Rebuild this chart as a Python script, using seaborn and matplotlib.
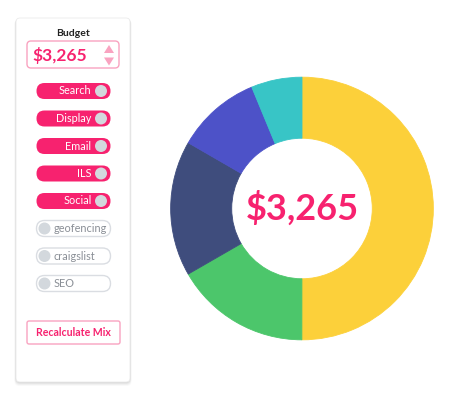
import matplotlib
matplotlib.use("Agg")
import matplotlib.pyplot as plt
from matplotlib.patches import FancyBboxPatch, Circle, Polygon
import seaborn as sns

# ---- data ----
channels_on = ["Search", "Display", "Email", "ILS", "Social"]
amounts = [1633, 544, 544, 340, 204]
channels_off = ["geofencing", "craigslist", "SEO"]
title = "Budget"
button_label = "Recalculate Mix"

total = sum(amounts)
total_label = f"${total:,}"

# ---- style ----
sns.set_theme(style="white")
plt.rcParams["font.family"] = ["Lato", "DejaVu Sans"]
PINK = "#F7226F"
LIGHT_PINK = "#F9A3C0"
KNOB = "#D3D8DD"
slice_colors = ["#FCD03A", "#4CC66B", "#3F4D7D", "#4D52C8", "#38C5C6"]

W, H = 474, 393
fig = plt.figure(figsize=(W / 100, H / 100), dpi=100)
fig.patch.set_facecolor("white")

bg = fig.add_axes([0, 0, 1, 1])
bg.set_xlim(0, W)
bg.set_ylim(H, 0)
bg.axis("off")

# card with soft shadow
for off, a in [(4, 0.025), (3, 0.035), (2, 0.045), (1, 0.06)]:
    bg.add_patch(FancyBboxPatch((16 - off * 0.4, 18 + off * 0.3), 114 + off * 0.8, 364 + off * 0.7,
                                boxstyle="round,pad=0,rounding_size=5",
                                fc="black", ec="none", alpha=a, zorder=1))
bg.add_patch(FancyBboxPatch((16, 18), 114, 364,
                            boxstyle="round,pad=0,rounding_size=4",
                            fc="white", ec="#EBEBEB", lw=0.6, zorder=2))

bg.text(73, 33, title, ha="center", va="center", fontsize=7.5,
        fontweight="bold", color="#222222", zorder=3)

# budget input
bg.add_patch(FancyBboxPatch((27, 41), 92, 27,
                            boxstyle="round,pad=0,rounding_size=4",
                            fc="white", ec=LIGHT_PINK, lw=1.0, zorder=3))
bg.text(32, 55.5, total_label, ha="left", va="center", fontsize=12.5,
        fontweight="bold", color=PINK, zorder=4)
bg.add_patch(Polygon([[104, 53], [114, 53], [109, 45]], closed=True,
                     fc=LIGHT_PINK, ec="none", zorder=4))
bg.add_patch(Polygon([[104, 57.5], [114, 57.5], [109, 65.5]], closed=True,
                     fc=LIGHT_PINK, ec="none", zorder=4))

# toggles
y0, dy = 91, 27.5
for i, name in enumerate(channels_on):
    yc = y0 + i * dy
    bg.add_patch(FancyBboxPatch((36.5, yc - 8), 74, 16,
                                boxstyle="round,pad=0,rounding_size=8",
                                fc=PINK, ec="none", zorder=3))
    bg.add_patch(Circle((101, yc), 6, fc=KNOB, ec="none", zorder=4))
    bg.text(91.5, yc, name, ha="right", va="center", fontsize=7.8,
            color="white", zorder=4)
for j, name in enumerate(channels_off):
    yc = y0 + (len(channels_on) + j) * dy
    bg.add_patch(FancyBboxPatch((36.5, yc - 8), 74, 16,
                                boxstyle="round,pad=0,rounding_size=8",
                                fc="white", ec="#DADDE2", lw=1.0, zorder=3))
    bg.add_patch(Circle((44.5, yc), 6, fc=KNOB, ec="none", zorder=4))
    bg.text(53.5, yc, name, ha="left", va="center", fontsize=7.8,
            color="#8A8F96", zorder=4)

# recalculate button
bg.add_patch(FancyBboxPatch((27, 321), 93, 23,
                            boxstyle="round,pad=0,rounding_size=2",
                            fc="white", ec=LIGHT_PINK, lw=1.0, zorder=3))
bg.text(73.5, 332.5, button_label, ha="center", va="center", fontsize=7.6,
        fontweight="bold", color=PINK, zorder=4)

# donut
cx, cy, r = 302, 208.5, 132
ax = fig.add_axes([(cx - r) / W, (H - cy - r) / H, 2 * r / W, 2 * r / H])
ax.pie(amounts, colors=slice_colors, startangle=90, counterclock=False,
       radius=1, wedgeprops=dict(width=0.465, linewidth=0.6))
for w, c in zip(ax.patches, slice_colors):
    w.set_edgecolor(c)
ax.set_xlim(-1.005, 1.005)
ax.set_ylim(-1.005, 1.005)
ax.set_aspect("equal")
ax.axis("off")
ax.text(0, 0, total_label, ha="center", va="center", fontsize=26,
        fontweight="bold", color=PINK)

fig.savefig("out.png", dpi=100, facecolor="white")
